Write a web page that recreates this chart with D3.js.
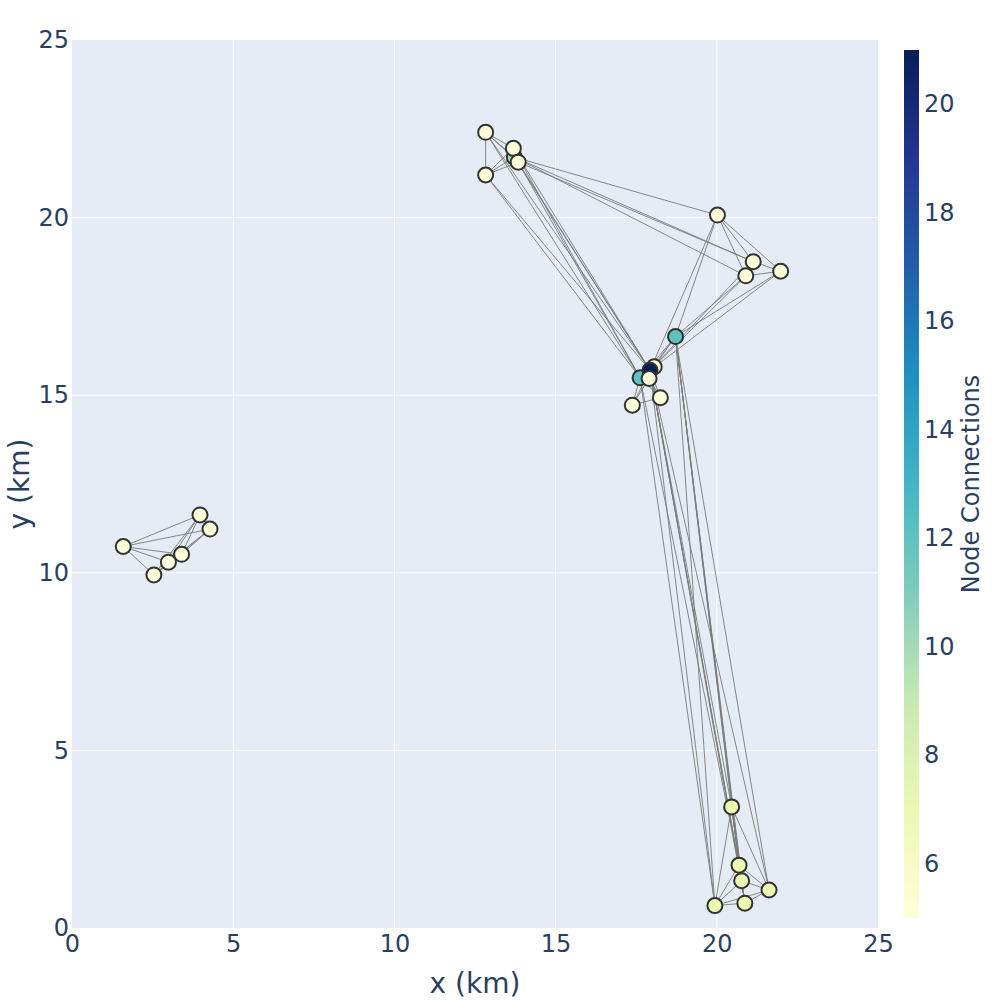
<!DOCTYPE html>
<html>
<head>
<meta charset="utf-8">
<script src="https://cdn.jsdelivr.net/npm/d3@7"></script>
<style>
  body { margin: 0; background: #fff; }
  svg text { font-family: "DejaVu Sans", "Open Sans", sans-serif; fill: #2a3f5f; }
</style>
</head>
<body>
<svg id="chart" width="1000" height="1000"></svg>
<script>
// node names, positions (km) and connection counts
var nodeIds = ["V","W","X","Y","Z","AA",
               "A","H0","B","C","D",
               "E","F","G","H",
               "I","K","L","J","M","N","O",
               "P","Q","R","S","T","U"];
var nodeX = [1.59, 3.97, 4.28, 3.40, 2.99, 2.54,
             12.83, 13.72, 13.69, 13.84, 12.83,
             20.02, 21.13, 20.90, 21.98,
             18.72, 18.06, 17.62, 17.93, 17.90, 18.25, 17.38,
             20.46, 20.69, 20.77, 21.62, 20.87, 19.94];
var nodeY = [10.74, 11.63, 11.23, 10.52, 10.30, 9.94,
             22.40, 21.70, 21.95, 21.56, 21.20,
             20.07, 18.76, 18.36, 18.49,
             16.65, 15.80, 15.49, 15.70, 15.47, 14.93, 14.72,
             3.41, 1.77, 1.33, 1.07, 0.70, 0.63];
var connections = [5, 5, 5, 5, 5, 5,
                   5, 10, 5, 5, 5,
                   5, 5, 5, 5,
                   12, 5, 12, 21, 5, 5, 5,
                   7, 7, 7, 7, 7, 7];

// edges as [source, target]
var edgeFrom = ["V","V","V","V","V","W","W","W","W","X","X","X","Y","Y","Z",
                "A","A","A","A","B","B","B","H0","H0","C",
                "A","B","H0","C","D","A","B","C","D",
                "H0","H0","C","H0","E","E","E","F","F","G",
                "E","F","G","H","E","G","H",
                "J","J","J","J","J","J","I","I","L","L","L","L","M","N","M",
                "P","P","P","P","P","Q","Q","Q","Q","R","R","R","S","S","T",
                "J","J","J","J","J","J","I","I","I","I","I","I","L","L"];
var edgeTo   = ["W","X","Y","Z","AA","X","Y","Z","AA","Y","Z","AA","Z","AA","AA",
                "B","H0","C","D","H0","C","D","C","D","D",
                "J","J","J","J","J","L","L","L","L",
                "E","F","F","G","F","G","H","G","H","H",
                "J","J","J","J","I","I","I",
                "I","K","L","M","N","O","K","L","K","M","N","O","O","O","N",
                "Q","R","S","T","U","R","S","T","U","S","T","U","T","U","U",
                "P","Q","R","S","T","U","P","Q","R","S","T","U","Q","U"];

// x/y ticks and colorbar ticks
var axisTicks = [0, 5, 10, 15, 20, 25];
var barTicks = [6, 8, 10, 12, 14, 16, 18, 20];
var ylgnbu = ["#ffffd9","#edf8b1","#c7e9b4","#7fcdbb","#41b6c4","#1d91c0","#225ea8","#253494","#081d58"];

var plotL = 72, plotR = 878, plotT = 40, plotB = 928;

var svg = d3.select("#chart");
var x = d3.scaleLinear().domain([0, 25]).range([plotL, plotR]);
var y = d3.scaleLinear().domain([0, 25]).range([plotB, plotT]);
var cmin = 5, cmax = 21;
var color = d3.scaleLinear()
    .domain(ylgnbu.map((c, i) => cmin + i * (cmax - cmin) / (ylgnbu.length - 1)))
    .range(ylgnbu);

// plot background + grid
svg.append("rect")
    .attr("x", plotL).attr("y", plotT)
    .attr("width", plotR - plotL).attr("height", plotB - plotT)
    .attr("fill", "#e5ecf6");

var grid = svg.append("g");
grid.selectAll(".gx").data(axisTicks.slice(1, -1)).enter().append("line")
    .attr("x1", d => x(d)).attr("x2", d => x(d))
    .attr("y1", plotT).attr("y2", plotB)
    .attr("stroke", "#fff").attr("stroke-width", 1);
grid.selectAll(".gy").data(axisTicks.slice(1, -1)).enter().append("line")
    .attr("y1", d => y(d)).attr("y2", d => y(d))
    .attr("x1", plotL).attr("x2", plotR)
    .attr("stroke", "#fff").attr("stroke-width", 1);

// axes (labels only, plotly style)
var xAxis = svg.append("g")
    .attr("transform", "translate(0," + plotB + ")")
    .call(d3.axisBottom(x).tickValues(axisTicks).tickSize(0).tickPadding(7));
var yAxis = svg.append("g")
    .attr("transform", "translate(" + plotL + ",0)")
    .call(d3.axisLeft(y).tickValues(axisTicks).tickSize(0).tickPadding(3));
[xAxis, yAxis].forEach(a => {
    a.select(".domain").remove();
    a.selectAll("text").style("font-size", "24px").attr("fill", "#2a3f5f");
});

svg.append("text")
    .attr("x", (plotL + plotR) / 2).attr("y", 993)
    .attr("text-anchor", "middle")
    .style("font-size", "28px")
    .text("x (km)");
svg.append("text")
    .attr("transform", "translate(29," + (plotT + plotB) / 2 + ") rotate(-90)")
    .attr("text-anchor", "middle")
    .style("font-size", "28px")
    .text("y (km)");

// edges
var pos = {};
nodeIds.forEach((id, i) => { pos[id] = i; });
var edges = edgeFrom.map((s, i) => ({ s: pos[s], t: pos[edgeTo[i]] }));

svg.append("g").attr("class", "edge-holder")
    .selectAll("line")
    .data(edges).enter()
    .append("line")
    .attr("x1", d => x(nodeX[d.s])).attr("y1", d => y(nodeY[d.s]))
    .attr("x2", d => x(nodeX[d.t])).attr("y2", d => y(nodeY[d.t]))
    .attr("stroke", "#7a7a7a")
    .attr("stroke-width", 0.9);

// nodes
svg.append("g").attr("class", "node-holder")
    .selectAll("circle")
    .data(nodeIds).enter()
    .append("circle")
    .attr("cx", (d, i) => x(nodeX[i]))
    .attr("cy", (d, i) => y(nodeY[i]))
    .attr("r", 7.5)
    .attr("fill", (d, i) => color(connections[i]))
    .attr("stroke", "rgb(50,50,50)")
    .attr("stroke-width", 2);

// colorbar
var cbX = 904, cbW = 15, cbTop = 50, cbBottom = 918;
var cy = d3.scaleLinear().domain([cmin, cmax]).range([cbBottom, cbTop]);
var grad = svg.append("defs").append("linearGradient")
    .attr("id", "cbgrad")
    .attr("x1", 0).attr("y1", 1).attr("x2", 0).attr("y2", 0);
grad.selectAll("stop").data(ylgnbu).enter().append("stop")
    .attr("offset", (d, i) => i / (ylgnbu.length - 1))
    .attr("stop-color", d => d);
svg.append("rect")
    .attr("x", cbX).attr("y", cbTop)
    .attr("width", cbW).attr("height", cbBottom - cbTop)
    .attr("fill", "url(#cbgrad)");
var cbAxis = svg.append("g")
    .attr("transform", "translate(" + (cbX + cbW) + ",0)")
    .call(d3.axisRight(cy).tickValues(barTicks).tickSize(0).tickPadding(5));
cbAxis.select(".domain").remove();
cbAxis.selectAll("text").style("font-size", "24px").attr("fill", "#2a3f5f");

svg.append("text")
    .attr("transform", "translate(979," + (cbTop + cbBottom) / 2 + ") rotate(-90)")
    .attr("text-anchor", "middle")
    .style("font-size", "24px")
    .text("Node Connections");
</script>
</body>
</html>
